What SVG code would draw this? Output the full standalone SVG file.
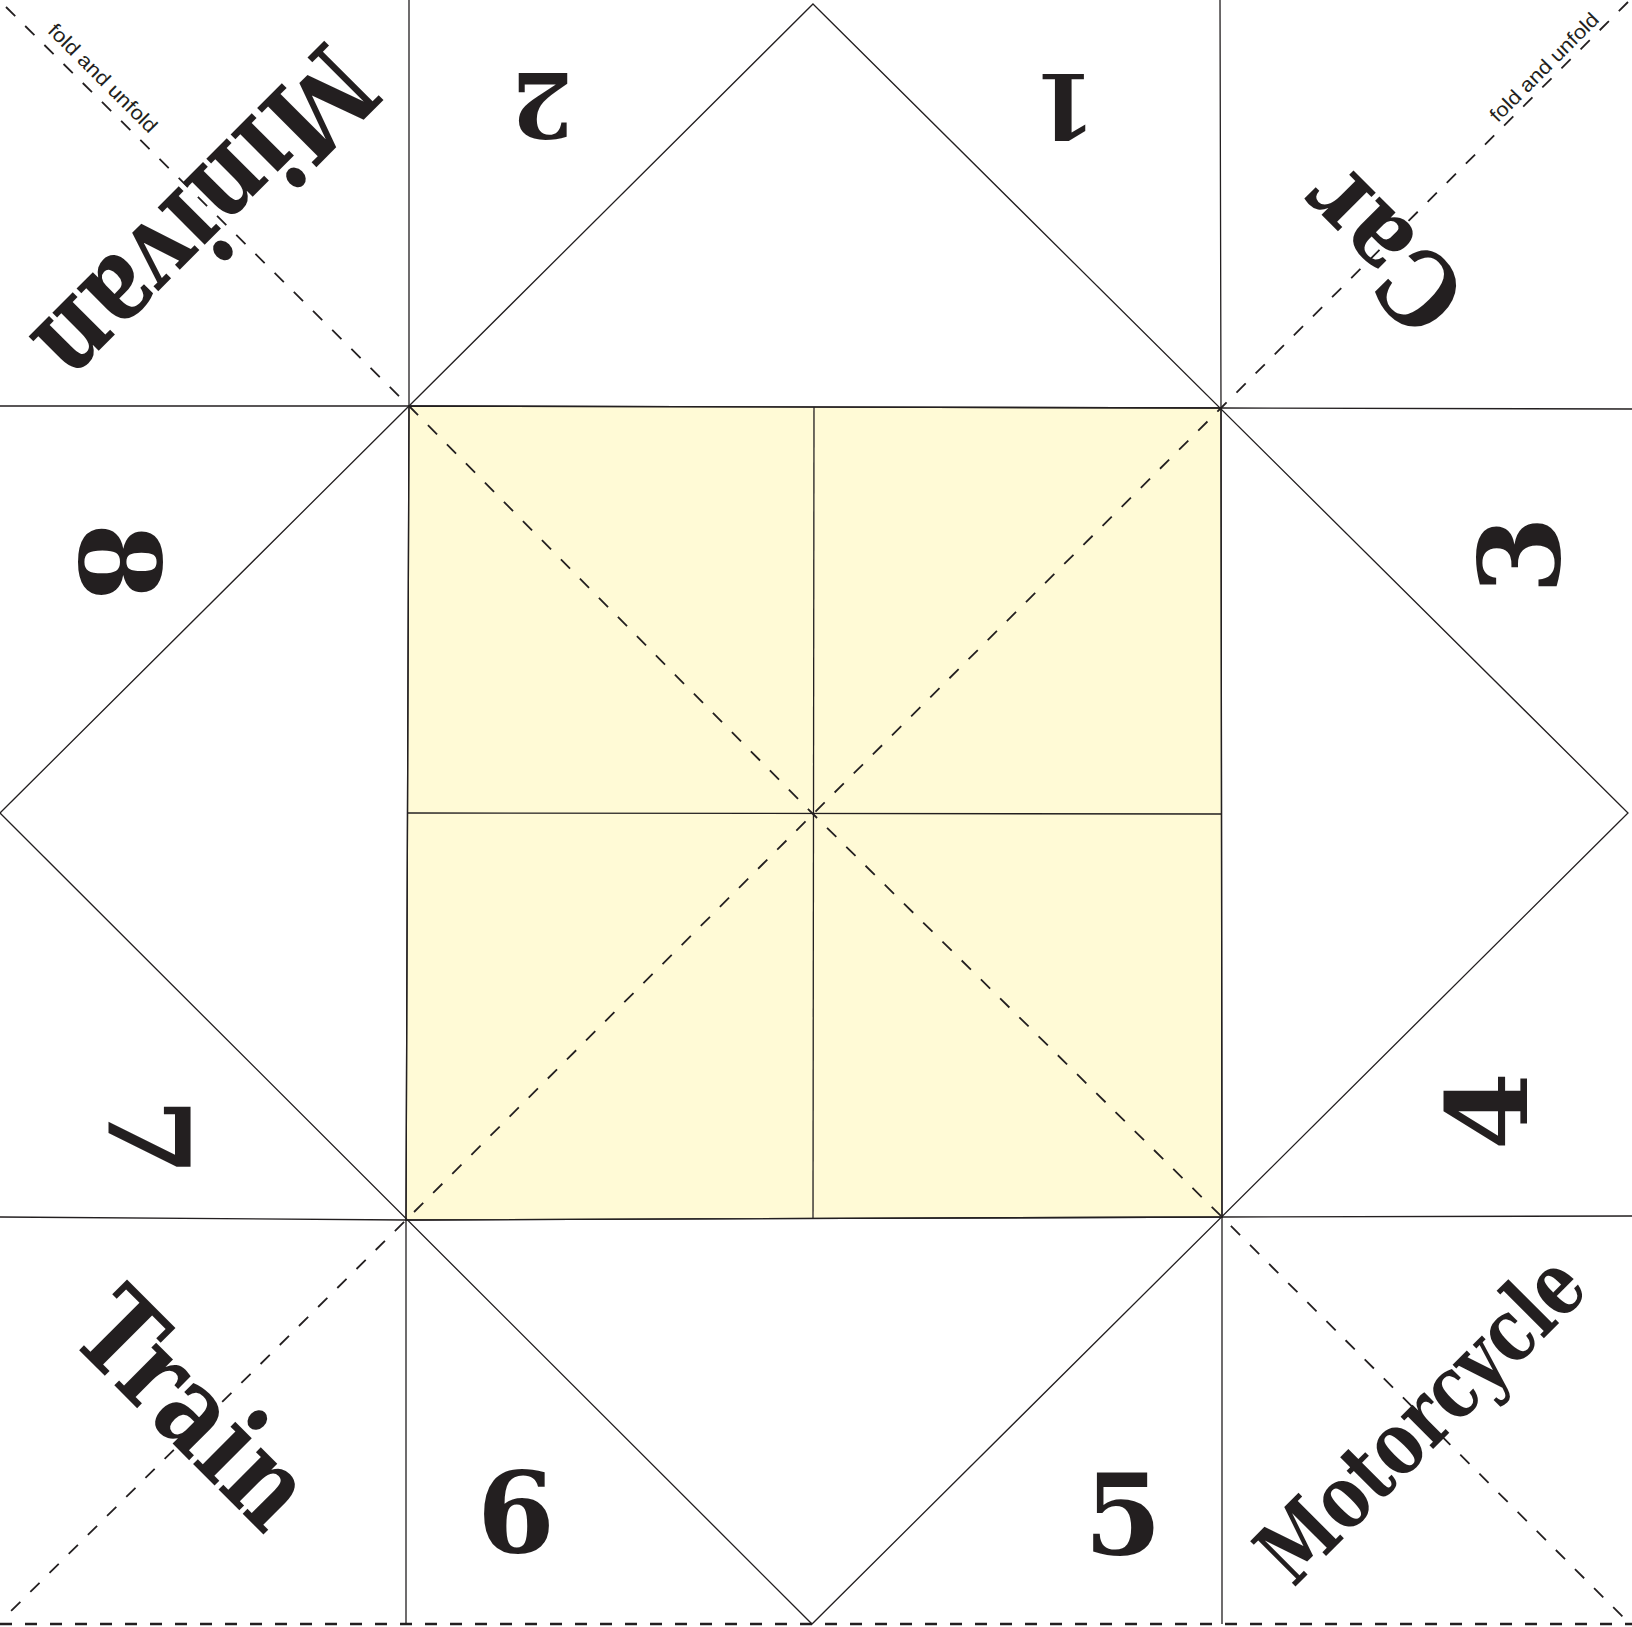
<svg xmlns="http://www.w3.org/2000/svg" width="1632" height="1627" viewBox="0 0 1632 1627">
<style>
.cut{fill:none;stroke:#231f20;stroke-width:1.3}
.paper{fill:#fffad6;stroke:#231f20;stroke-width:1.3}
.fold{fill:none;stroke:#231f20;stroke-width:1.8;stroke-dasharray:13 14}
.edge{fill:none;stroke:#231f20;stroke-width:2.4;stroke-dasharray:12 13}
.word{font-family:"DejaVu Serif","Liberation Serif",serif;font-weight:bold;fill:#231f20;text-anchor:middle}
.num{font-family:"DejaVu Serif","Liberation Serif",serif;font-weight:bold;fill:#231f20;text-anchor:middle}
.hint{font-family:"Liberation Sans",Arial,sans-serif;font-size:20px;fill:#231f20;text-anchor:middle}
</style>
<rect width="1632" height="1627" fill="#ffffff"/>
<g id="center-square">
<polygon class="paper" points="409,406 1221,408 1222,1217 406,1220"/>
</g>
<g id="connectors">
<polygon class="cut" points="813,4 1628,813 812,1624 0,813"/>
<polyline class="cut" points="0,406 409,406 1221,408 1632,409"/>
<polyline class="cut" points="0,1217 406,1220 1222,1217 1632,1216"/>
<polyline class="cut" points="409,0 409,406 406,1220 406,1624"/>
<polyline class="cut" points="1220,0 1221,408 1222,1217 1222,1624"/>
<line class="cut" x1="814" y1="407" x2="813" y2="1218"/>
<line class="cut" x1="407" y1="813" x2="1221" y2="814"/>
<polyline class="fold" points="6,7 409,406 813,814 1222,1217 1624,1618"/>
<polyline class="fold" points="1628,2 1221,408 813,814 406,1220 4,1618"/>
<line class="edge" x1="0" y1="1624" x2="1632" y2="1624"/>
</g>
<g id="fold-labels">
<text class="hint" transform="translate(98,83) rotate(45)" textLength="145" lengthAdjust="spacingAndGlyphs">fold and unfold</text>
<text class="hint" transform="translate(1549,72) rotate(-45)" textLength="145" lengthAdjust="spacingAndGlyphs">fold and unfold</text>
</g>
<g id="corner-words">
<text class="word" font-size="115" transform="translate(177,188) rotate(135)" textLength="424" lengthAdjust="spacingAndGlyphs">Minivan</text>
<text class="word" font-size="104" transform="translate(1408,225) rotate(-135)" textLength="182" lengthAdjust="spacingAndGlyphs">Car</text>
<text class="word" font-size="115" transform="translate(166,1437) rotate(45)" textLength="280" lengthAdjust="spacingAndGlyphs">Train</text>
<text class="word" font-size="88" transform="translate(1442,1440) rotate(-45)" textLength="420" lengthAdjust="spacingAndGlyphs">Motorcycle</text>
</g>
<g id="numbers">
<text class="num" font-size="90" transform="translate(1065,74) rotate(180)">1</text>
<text class="num" font-size="90" transform="translate(542,73) rotate(180)">2</text>
<text class="num" font-size="112" transform="translate(1559,555) rotate(-90)">3</text>
<text class="num" font-size="112" transform="translate(1527,1111) rotate(-90)">4</text>
<text class="num" font-size="112" transform="translate(1123,1554)">5</text>
<text class="num" font-size="112" transform="translate(516,1552)">6</text>
<text class="num" font-size="112" transform="translate(109,1137) rotate(90)">7</text>
<text class="num" font-size="112" transform="translate(80,562) rotate(90)">8</text>
</g>
</svg>
